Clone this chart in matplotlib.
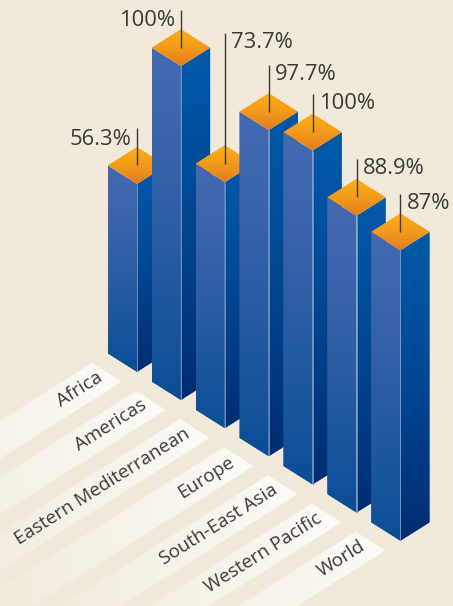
"""
Isometric bar chart of regional percentages with orange caps and
fading label strips running off to the lower left.
"""

import numpy as np
import matplotlib
matplotlib.use("Agg")
import matplotlib.pyplot as plt
from matplotlib.colors import to_rgb
from matplotlib.patches import Polygon

plt.rcParams["font.family"] = ["Open Sans", "DejaVu Sans"]

REGIONS = ["Africa", "Americas", "Eastern Mediterranean", "Europe",
           "South-East Asia", "Western Pacific", "World"]
VALUES = [56.3, 100, 73.7, 97.7, 100, 88.9, 87]

# leader line length above each cap, and which side its label sits on
LEADER_LEN = [37, 38, 131, 47, 38, 38, 38]
LABEL_SIDE = ["left", "left", "right", "right", "right", "right", "right"]

BG = "#f1eada"

# isometric layout, in pixels of the 453x606 canvas
FIRST_X, FIRST_Y = 137.0, 372.0
STEP_X, STEP_Y = 43.9, 28.15
HALF_W, HALF_D = 29.3, 18.5
PX_PER_PCT = 3.34
STRIP_LEN = 260


def gradient_face(ax, pts, c_top, c_bottom, z, power=1.0):
    """Fill a polygon with a vertical gradient, clipped image style."""
    pts = np.array(pts)
    x0, x1 = pts[:, 0].min(), pts[:, 0].max()
    y0, y1 = pts[:, 1].min(), pts[:, 1].max()
    t = np.linspace(0, 1, 256)[:, None, None] ** power
    img = (1 - t) * np.array(to_rgb(c_top)) + t * np.array(to_rgb(c_bottom))
    im = ax.imshow(img, extent=(x0, x1, y1, y0), aspect="auto",
                   interpolation="bilinear", zorder=z)
    im.set_clip_path(Polygon(pts, closed=True, transform=ax.transData))


def label_strip(ax, rx, ry, z):
    """Pale strip whose right end is solid and which fades towards the left."""
    pts = np.array([
        [rx, ry],
        [rx - HALF_W, ry - HALF_D * 1.03],
        [rx - HALF_W - STRIP_LEN, ry - HALF_D * 1.03 + STRIP_LEN * HALF_D / HALF_W],
        [rx - STRIP_LEN, ry + STRIP_LEN * HALF_D / HALF_W],
    ])
    fade = np.linspace(0.12, 1, 256) ** 1.3
    rgba = np.ones((1, 256, 4))
    rgba[..., :3] = to_rgb("#fcfbf7")
    rgba[..., 3] = fade
    im = ax.imshow(rgba, extent=(pts[:, 0].min(), rx, pts[:, 1].max(), pts[:, 1].min()),
                   aspect="auto", interpolation="bilinear", zorder=z)
    im.set_clip_path(Polygon(pts, closed=True, transform=ax.transData))


fig = plt.figure(figsize=(4.53, 6.06), dpi=100, facecolor=BG)
ax = fig.add_axes([0, 0, 1, 1])
ax.set_facecolor(BG)
ax.axis("off")

angle = np.degrees(np.arctan2(HALF_D, HALF_W))

# ── Label strips ──────────────────────────────────────────────────────────
for i, name in enumerate(REGIONS):
    rx = 121.7 + STEP_X * i
    ry = 381.7 + STEP_Y * i
    label_strip(ax, rx, ry, 1)
    ax.text(rx - 21, ry - 6, name, rotation=angle, rotation_mode="anchor",
            ha="right", va="center", fontsize=13.6, color="#3a3a38", zorder=2)

# ── Bars, drawn back to front ─────────────────────────────────────────────
for i, val in enumerate(VALUES):
    cx = FIRST_X + STEP_X * i
    base = FIRST_Y + STEP_Y * i
    front = base - val * PX_PER_PCT
    mid = front - HALF_D
    z = 10 + i * 2

    gradient_face(ax, [(cx - HALF_W, mid), (cx, front), (cx, base),
                       (cx - HALF_W, base - HALF_D)], "#4369b0", "#0a4e96", z, power=1.3)
    gradient_face(ax, [(cx, front), (cx + HALF_W, mid),
                       (cx + HALF_W, base - HALF_D), (cx, base)], "#0059a8", "#002d72", z, power=1.2)
    gradient_face(ax, [(cx, mid - HALF_D), (cx + HALF_W, mid), (cx, front),
                       (cx - HALF_W, mid)], "#fcaa1a", "#e07a1e", z, power=1.6)
    ax.plot([cx, cx], [front, base], color="#7f9bc9", lw=0.6, zorder=z, solid_capstyle="butt")

    # leader from the cap centre up to the value label
    top = mid - LEADER_LEN[i]
    ax.plot([cx, cx], [mid, top], color="#3b3a36", lw=1.0, zorder=z + 1, solid_capstyle="butt")
    if LABEL_SIDE[i] == "left":
        ax.text(cx - 6, top + 11, f"{val:g}%", ha="right", va="center",
                fontsize=15.8, color="#3a3a38", zorder=40)
    else:
        ax.text(cx + 6.5, top + 9.5, f"{val:g}%", ha="left", va="center",
                fontsize=15.8, color="#3a3a38", zorder=40)

ax.set_xlim(0, 453)
ax.set_ylim(606, 0)

fig.savefig("out.png", dpi=100, facecolor=BG)
